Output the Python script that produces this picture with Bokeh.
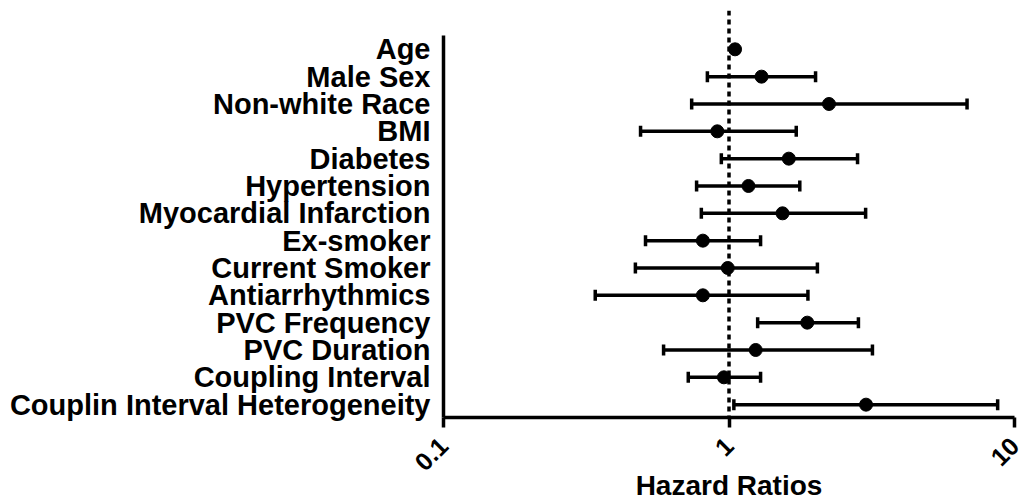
import math
from bokeh.plotting import figure
from bokeh.models import (ColumnDataSource, Whisker, TeeHead, Span, FixedTicker,
                          CustomJSTickFormatter, Range1d)
from bokeh.embed import file_html
from bokeh.resources import INLINE

# ---- data (top to bottom) ----
variables = ["Age", "Male Sex", "Non-white Race", "BMI", "Diabetes", "Hypertension",
             "Myocardial Infarction", "Ex-smoker", "Current Smoker", "Antiarrhythmics",
             "PVC Frequency", "PVC Duration", "Coupling Interval",
             "Couplin Interval Heterogeneity"]
hazard_ratio = [1.05, 1.30, 2.24, 0.91, 1.62, 1.17, 1.54, 0.81, 0.99, 0.81, 1.88, 1.24, 0.96, 3.02]
ci_lower     = [1.03, 0.84, 0.74, 0.49, 0.94, 0.77, 0.80, 0.51, 0.47, 0.34, 1.26, 0.59, 0.72, 1.04]
ci_upper     = [1.07, 2.01, 6.82, 1.72, 2.82, 1.77, 3.01, 1.29, 2.04, 1.89, 2.84, 3.18, 1.29, 8.73]
x_ticks = [0.1, 1, 10]
reference_hr = 1

n = len(variables)
ypos = [n - 1 - i for i in range(n)]

src = ColumnDataSource(dict(y=ypos, hr=hazard_ratio, lo=ci_lower, hi=ci_upper))

FONT = "Liberation Sans"

p = figure(width=1028, height=503, x_axis_type="log",
           x_range=Range1d(0.1, 10), y_range=Range1d(-0.47, 14.42),
           output_backend="svg", toolbar_location=None,
           min_border_left=443, min_border_right=14, min_border_top=10, min_border_bottom=85)
p.outline_line_color = None
p.xgrid.visible = False
p.ygrid.visible = False
p.background_fill_color = "white"
p.border_fill_color = "white"

# reference line
p.add_layout(Span(location=reference_hr, dimension="height", line_color="black",
                  line_width=3.5, line_dash="5 4"))

# error bars
p.add_layout(Whisker(source=src, base="y", lower="lo", upper="hi", dimension="width",
                     line_color="black", line_width=3.5,
                     lower_head=TeeHead(size=11, line_width=3.5, line_color="black"),
                     upper_head=TeeHead(size=11, line_width=3.5, line_color="black")))
p.scatter(x="hr", y="y", source=src, size=13, color="black")

# y axis
p.yaxis.ticker = FixedTicker(ticks=ypos)
p.yaxis.major_label_overrides = {y: v for y, v in zip(ypos, variables)}
p.yaxis.bounds = (-0.47, n - 0.5)
p.yaxis.axis_line_width = 3.5
p.yaxis.axis_line_color = "black"
p.yaxis.major_tick_line_color = None
p.yaxis.minor_tick_line_color = None
p.yaxis.major_label_standoff = 7
p.yaxis.major_label_text_font = FONT
p.yaxis.major_label_text_font_style = "bold"
p.yaxis.major_label_text_font_size = "29px"
p.yaxis.major_label_text_color = "black"

# x axis
p.xaxis.ticker = FixedTicker(ticks=x_ticks, minor_ticks=[])
p.xaxis.formatter = CustomJSTickFormatter(code="return tick.toString();")
p.xaxis.axis_line_width = 3.5
p.xaxis.axis_line_color = "black"
p.xaxis.major_tick_line_width = 3.5
p.xaxis.major_tick_line_color = "black"
p.xaxis.major_tick_out = 10
p.xaxis.major_tick_in = 0
p.xaxis.minor_tick_line_color = None
p.xaxis.major_label_orientation = math.pi / 4
p.xaxis.major_label_standoff = 14
p.xaxis.major_label_text_font = FONT
p.xaxis.major_label_text_font_style = "bold"
p.xaxis.major_label_text_font_size = "25px"
p.xaxis.major_label_text_color = "black"
p.xaxis.axis_label = "Hazard Ratios"
p.xaxis.axis_label_standoff = -12
p.xaxis.axis_label_text_font = FONT
p.xaxis.axis_label_text_font_style = "bold"
p.xaxis.axis_label_text_font_size = "28px"
p.xaxis.axis_label_text_color = "black"

open("out.html", "w").write(file_html(p, INLINE))
